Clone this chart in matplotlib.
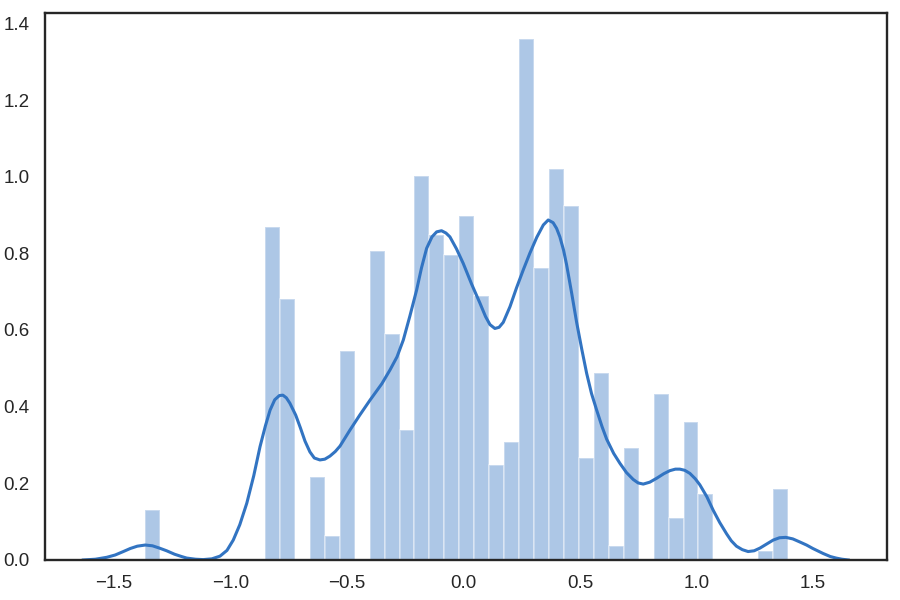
import numpy as np
import matplotlib
matplotlib.use("Agg")
import matplotlib.pyplot as plt

# histogram (density): 43 equal bins
bin_lo = -1.365
bin_hi = 1.394
n_bins = 43
bar_heights = [0.131, 0, 0, 0, 0, 0, 0, 0, 0.870, 0.680,
               0, 0.216, 0.063, 0.546, 0, 0.807, 0.590, 0.338, 1.003, 0.848,
               0.795, 0.897, 0.688, 0.247, 0.308, 1.359, 0.763, 1.021, 0.924, 0.266,
               0.487, 0.036, 0.293, 0, 0.434, 0.110, 0.361, 0.173, 0, 0,
               0, 0.024, 0.186]

# kde curve, points
kde_x = [-1.632, -1.580, -1.531, -1.495, -1.460, -1.430, -1.400, -1.366, -1.335, -1.305,
         -1.274, -1.240, -1.210, -1.188, -1.150, -1.117, -1.080, -1.045, -1.015, -0.988,
         -0.960, -0.930, -0.900, -0.873, -0.850, -0.830, -0.810, -0.790, -0.775, -0.760,
         -0.745, -0.720, -0.700, -0.680, -0.659, -0.640, -0.616, -0.595, -0.573, -0.550,
         -0.530, -0.487, -0.445, -0.401, -0.350, -0.315, -0.285, -0.258, -0.230, -0.201,
         -0.180, -0.158, -0.135, -0.115, -0.094, -0.075, -0.058, -0.030, -0.001, 0.035,
         0.071, 0.095, 0.114, 0.135, 0.153, 0.171, 0.200, 0.228, 0.257, 0.285,
         0.315, 0.343, 0.364, 0.385, 0.400, 0.414, 0.430, 0.443, 0.465, 0.486,
         0.508, 0.529, 0.550, 0.572, 0.595, 0.615, 0.645, 0.672, 0.700, 0.729,
         0.750, 0.772, 0.800, 0.829, 0.860, 0.886, 0.910, 0.929, 0.950, 0.972,
         0.995, 1.015, 1.045, 1.072, 1.100, 1.130, 1.150, 1.172, 1.197, 1.222,
         1.248, 1.273, 1.300, 1.330, 1.357, 1.384, 1.414, 1.444, 1.473, 1.500,
         1.544, 1.575, 1.600, 1.625, 1.652]
kde_y = [0.000, 0.002, 0.007, 0.013, 0.022, 0.030, 0.036, 0.039, 0.037, 0.031,
         0.024, 0.015, 0.009, 0.005, 0.002, 0.001, 0.003, 0.010, 0.025, 0.052,
         0.092, 0.148, 0.220, 0.296, 0.350, 0.391, 0.418, 0.429, 0.430, 0.423,
         0.409, 0.378, 0.345, 0.310, 0.282, 0.266, 0.261, 0.263, 0.271, 0.283,
         0.297, 0.339, 0.378, 0.417, 0.460, 0.496, 0.530, 0.574, 0.636, 0.704,
         0.762, 0.813, 0.843, 0.856, 0.859, 0.853, 0.843, 0.812, 0.774, 0.720,
         0.670, 0.635, 0.614, 0.604, 0.607, 0.620, 0.661, 0.710, 0.757, 0.800,
         0.842, 0.874, 0.887, 0.880, 0.865, 0.843, 0.808, 0.770, 0.695, 0.620,
         0.550, 0.487, 0.434, 0.391, 0.348, 0.315, 0.278, 0.252, 0.228, 0.210,
         0.201, 0.198, 0.203, 0.213, 0.225, 0.233, 0.237, 0.237, 0.234, 0.226,
         0.212, 0.196, 0.165, 0.130, 0.098, 0.068, 0.050, 0.036, 0.027, 0.022,
         0.024, 0.031, 0.041, 0.052, 0.058, 0.059, 0.055, 0.047, 0.039, 0.030,
         0.017, 0.009, 0.005, 0.002, 0.000]

line_color = "#3274c2"

plt.rcParams["font.family"] = ["Liberation Sans", "DejaVu Sans"]

fig = plt.figure(figsize=(9, 6), dpi=100)
ax = fig.add_axes([0.050, 0.0667, 0.935, 0.9116])

edges = np.linspace(bin_lo, bin_hi, n_bins + 1)
ax.bar(edges[:-1], bar_heights, width=np.diff(edges), align="edge",
       color=line_color, alpha=0.4, edgecolor="white", linewidth=1.2)
ax.plot(kde_x, kde_y, color=line_color, linewidth=2.2, solid_joinstyle="round")

ax.set_xticks([-1.5, -1.0, -0.5, 0.0, 0.5, 1.0, 1.5])
ax.set_yticks([0.0, 0.2, 0.4, 0.6, 0.8, 1.0, 1.2, 1.4])
ax.tick_params(axis="both", length=0, labelsize=13.5, labelcolor="#262626")
ax.tick_params(axis="x", pad=11)
ax.tick_params(axis="y", pad=11)
for s in ax.spines.values():
    s.set_color("#262626")
    s.set_linewidth(1.7)

fig.savefig("out.png", dpi=100)
